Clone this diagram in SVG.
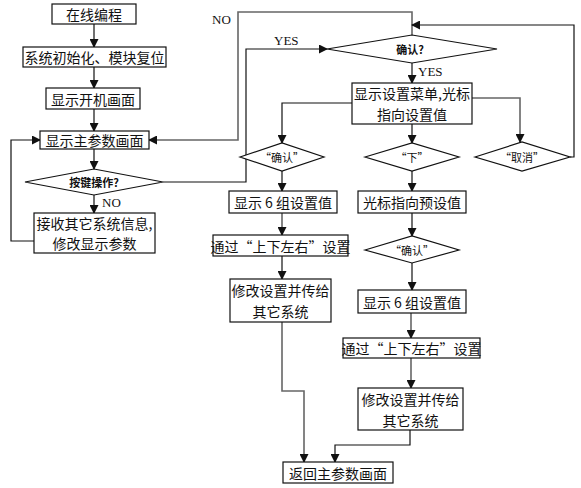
<svg xmlns="http://www.w3.org/2000/svg" width="581" height="488" viewBox="0 0 581 488">
<defs>
<marker id="ah" markerWidth="9" markerHeight="9" refX="8" refY="4.5" orient="auto" markerUnits="userSpaceOnUse">
<path d="M0,0 L9,4.5 L0,9 Z" fill="#111"/>
</marker>
<style>
.box{fill:#fff;stroke:#111;stroke-width:1.2}
.dia{fill:#fff;stroke:#111;stroke-width:1.2}
.t{font-family:"Noto Sans CJK SC","Noto Sans CJK JP",sans-serif;font-size:14px;fill:#111;text-anchor:middle;dominant-baseline:central}
.td{font-family:"Noto Sans CJK SC","Noto Sans CJK JP",sans-serif;font-size:11px;font-weight:bold;fill:#111;text-anchor:middle;dominant-baseline:central}
.tq{font-family:"Noto Sans CJK SC","Noto Sans CJK JP",sans-serif;font-size:11px;fill:#111;text-anchor:middle;dominant-baseline:central}
.lbl{font-family:"Liberation Serif",serif;font-size:13px;fill:#111}
.c{fill:none;stroke:#111;stroke-width:1.2}
.g{fill:none;stroke:#666;stroke-width:1.6}
.a{marker-end:url(#ah)}
</style>
</defs>
<rect width="581" height="488" fill="#fff"/>
<g id="connectors">
<path class="c a" d="M94,24 V47"/>
<path class="c a" d="M94,67 V88"/>
<path class="c a" d="M94,109 V131"/>
<path class="c a" d="M94,149 V169"/>
<path class="c a" d="M94,195 V213"/>
<path class="c a" d="M34,241 H11 V140 H40"/>
<path class="c a" d="M163,182 H246 V49 H327"/>
<path class="g a" d="M412,35 V12 H238 V140 H149"/>
<path class="c a" d="M412,63 V83"/>
<path class="c a" d="M352,103 H282 V143"/>
<path class="c a" d="M412,124 V143"/>
<path class="g a" d="M472,98 H520 V142"/>
<path class="c a" d="M570,157 H574 V25 H412"/>
<path class="c a" d="M282,171 V191"/>
<path class="g a" d="M282,213 V235"/>
<path class="c a" d="M282,256 V279"/>
<path class="g a" d="M282,322 V391 H304 V462"/>
<path class="c a" d="M412,171 V191"/>
<path class="c a" d="M412,213 V236"/>
<path class="c a" d="M412,263 V290"/>
<path class="g a" d="M411,313 V338"/>
<path class="g a" d="M411,358 V388"/>
<path class="c a" d="M410,430 V445 H335 V462"/>
<text class="lbl" x="102" y="207">NO</text>
<text class="lbl" x="274" y="45">YES</text>
<text class="lbl" x="212" y="24">NO</text>
<text class="lbl" x="418" y="76">YES</text>
</g>
<g id="n1"><rect class="box" x="52" y="4" width="84" height="20"/><text class="t" x="94" y="14">在线编程</text></g>
<g id="n2"><rect class="box" x="23" y="47" width="143" height="20"/><text class="t" x="94.5" y="57">系统初始化、模块复位</text></g>
<g id="n3"><rect class="box" x="46" y="88" width="94" height="21"/><text class="t" x="93" y="98.5">显示开机画面</text></g>
<g id="n4"><rect class="box" x="40" y="131" width="109" height="18"/><text class="t" x="94.5" y="140">显示主参数画面</text></g>
<g id="d1"><polygon class="dia" points="25,182 94,169 163,182 94,195"/><text class="td" x="94" y="182">按键操作?</text></g>
<g id="n5"><rect class="box" x="34" y="213" width="121" height="40"/><text class="t" x="94.5" y="223">接收其它系统信息,</text><text class="t" x="94.5" y="243">修改显示参数</text></g>
<g id="d2"><polygon class="dia" points="327,49 412,35 497,49 412,63"/><text class="td" x="410" y="49">确认?</text></g>
<g id="n6"><rect class="box" x="352" y="83" width="120" height="41"/><text class="t" x="412" y="93">显示设置菜单,光标</text><text class="t" x="412" y="114">指向设置值</text></g>
<g id="d3"><polygon class="dia" points="240,157 282,143 324,157 282,171"/><text class="tq" x="282" y="157">“确认”</text></g>
<g id="d4"><polygon class="dia" points="365,157 412,143 459,157 412,171"/><text class="tq" x="412" y="157">“下”</text></g>
<g id="d5"><polygon class="dia" points="475,157 522,142 570,157 522,171"/><text class="tq" x="522" y="157">“取消”</text></g>
<g id="n7"><rect class="box" x="229" y="191" width="108" height="22"/><text class="t" x="283" y="202">显示 6 组设置值</text></g>
<g id="n8"><rect class="box" x="213" y="235" width="135" height="21"/><text class="t" x="280.5" y="245.5">通过“上下左右”设置</text></g>
<g id="n9"><rect class="box" x="230" y="279" width="101" height="43"/><text class="t" x="280.5" y="290">修改设置并传给</text><text class="t" x="280.5" y="311">其它系统</text></g>
<g id="n10"><rect class="box" x="358" y="191" width="108" height="22"/><text class="t" x="412" y="202">光标指向预设值</text></g>
<g id="d6"><polygon class="dia" points="365,250 412,236 459,250 412,263"/><text class="tq" x="412" y="250">“确认”</text></g>
<g id="n11"><rect class="box" x="358" y="290" width="108" height="23"/><text class="t" x="412" y="301.5">显示 6 组设置值</text></g>
<g id="n12"><rect class="box" x="343" y="338" width="137" height="20"/><text class="t" x="411.5" y="348">通过“上下左右”设置</text></g>
<g id="n13"><rect class="box" x="358" y="388" width="105" height="42"/><text class="t" x="410.5" y="399">修改设置并传给</text><text class="t" x="410.5" y="420">其它系统</text></g>
<g id="n14"><rect class="box" x="283" y="462" width="110" height="21"/><text class="t" x="338" y="472.5">返回主参数画面</text></g>
</svg>
